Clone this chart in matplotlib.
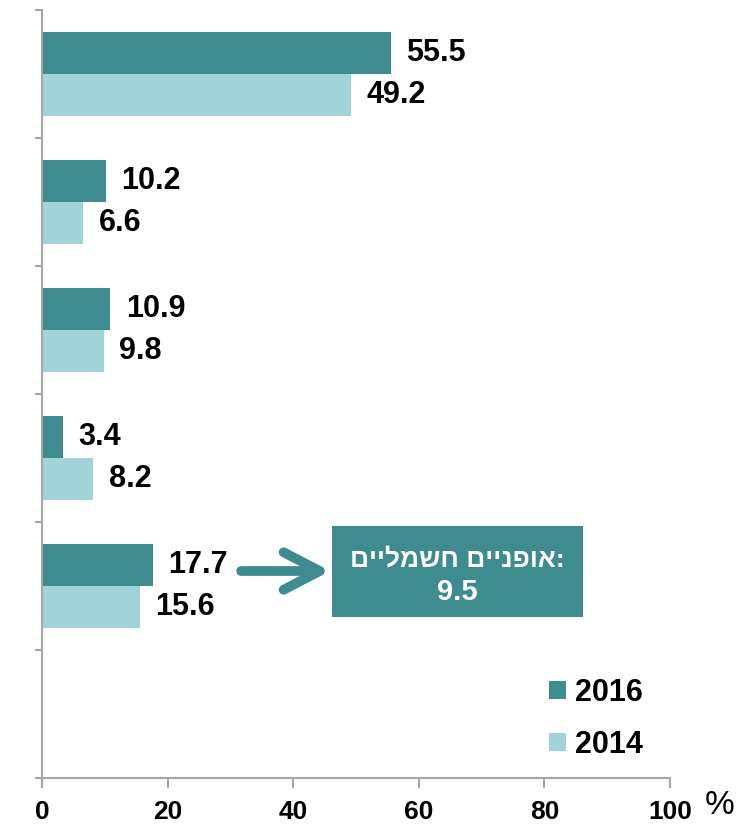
import matplotlib
matplotlib.use("Agg")
import matplotlib.pyplot as plt
from matplotlib.patches import Patch, Rectangle
import numpy as np

categories = ["c1", "c2", "c3", "c4", "c5", "c6"]
values_2016 = [55.5, 10.2, 10.9, 3.4, 17.7, None]
values_2014 = [49.2, 6.6, 9.8, 8.2, 15.6, None]
series_labels = ["2016", "2014"]
xticks = [0, 20, 40, 60, 80, 100]
box_line1 = "אופניים חשמליים:"
box_value = "9.5"

dark = "#3E8B90"
light = "#A0D4D8"
axis_gray = "#A6A6A6"

plt.rcParams['font.family'] = ['Liberation Sans', 'DejaVu Sans']


def visual_rtl(s):
    # matplotlib lays glyphs out left-to-right; reverse the Hebrew run for display
    if s.endswith(":"):
        return s[:-1][::-1] + ":"
    return s[::-1]


fig = plt.figure(figsize=(7.41, 8.25), dpi=100)
ax = fig.add_axes([42/741, 1 - 778/825, 628/741, 768/825])

n = len(categories)
y = np.arange(n)
h = 0.33
for i in range(n):
    v16, v14 = values_2016[i], values_2014[i]
    if v16 is not None:
        ax.barh(y[i] - h/2, v16, height=h, color=dark, edgecolor="none")
        ax.annotate(f"{v16}", (v16, y[i] - h/2), xytext=(11, 0), textcoords="offset points",
                    ha="left", va="center", fontsize=22, fontweight="bold")
    if v14 is not None:
        ax.barh(y[i] + h/2, v14, height=h, color=light, edgecolor="none")
        ax.annotate(f"{v14}", (v14, y[i] + h/2), xytext=(11, 0), textcoords="offset points",
                    ha="left", va="center", fontsize=22, fontweight="bold")

ax.set_xlim(0, 100)
ax.set_ylim(n - 0.5, -0.5)
ax.set_yticks(np.arange(-0.5, n, 1))
ax.set_yticklabels([])
ax.set_xticks(xticks)
ax.set_xticklabels([str(t) for t in xticks], fontsize=19, fontweight="bold")
for s in ["top", "right"]:
    ax.spines[s].set_visible(False)
for s in ["left", "bottom"]:
    ax.spines[s].set_color(axis_gray)
    ax.spines[s].set_linewidth(1.5)
ax.tick_params(axis="y", direction="out", length=5, width=1.5, color=axis_gray)
ax.tick_params(axis="x", direction="out", length=7, width=1.5, color=axis_gray, pad=9)

# annotation box
ax.add_patch(Rectangle((46.1, 3.535), 40.0, 0.705, facecolor=dark, edgecolor="none", zorder=3))
ax.text(66.1, 3.79, visual_rtl(box_line1), ha="center", va="center", color="white",
        fontsize=19, fontweight="bold", zorder=4)
ax.text(66.1, 4.05, box_value, ha="center", va="center", color="white",
        fontsize=21, fontweight="bold", zorder=4)
ax.annotate("", xy=(45.9, 3.883), xytext=(31.7, 3.883),
            arrowprops=dict(arrowstyle="->,head_length=2.6,head_width=1.35", color=dark,
                            lw=7, capstyle="round", joinstyle="round", shrinkA=0, shrinkB=0))

# legend
handles = [Patch(facecolor=dark, edgecolor="none"), Patch(facecolor=light, edgecolor="none")]
leg = fig.legend(handles, series_labels, loc="center", bbox_to_anchor=(596/741, 1 - 719/825),
                 frameon=False, handlelength=0.55, handleheight=0.55, handletextpad=0.3,
                 labelspacing=0.72,
                 prop=dict(weight="bold", size=22))

fig.text(720/741, 1 - 805/825, "%", ha="center", va="center", fontsize=24)

fig.savefig("out.png", dpi=100)
